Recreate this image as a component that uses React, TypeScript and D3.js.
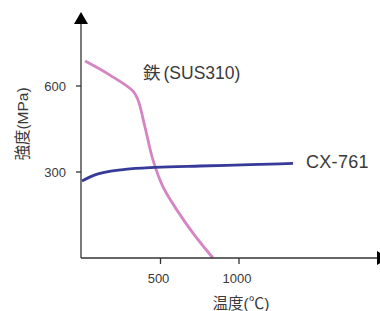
import * as d3 from "d3";

// temperature (°C) / strength (MPa)
const sus310Temp = [20, 178, 325, 357, 401, 452, 516, 605, 707, 834];
const sus310Strength = [687, 638, 582, 551, 457, 342, 248, 167, 87, 0];

const cx761Temp = [0, 83, 166, 274, 465, 752, 1070, 1344];
const cx761Strength = [269, 290, 301, 309, 316, 321, 325.5, 330];

const xTicks = [500, 1000];
const yTicks = [300, 600];

const W = 380;
const H = 311;
const font = "'Liberation Sans', Arial, 'Noto Sans CJK JP', sans-serif";
const axisColor = "#333";
const textColor = "#3a3a3a";

const App = () => {
  const x = d3.scaleLinear().domain([0, 1000]).range([82, 239]);
  const y = d3.scaleLinear().domain([0, 600]).range([258, 86]);

  const x0 = 81;
  const y0 = 258;
  const xEnd = 377;
  const yTop = 24;

  const line = d3
    .line<[number, number]>()
    .x((d) => x(d[0]))
    .y((d) => y(d[1]))
    .curve(d3.curveCatmullRom.alpha(0.5));

  const smooth = d3
    .line<[number, number]>()
    .x((d) => x(d[0]))
    .y((d) => y(d[1]))
    .curve(d3.curveMonotoneX);

  const sus = sus310Temp.map((t, i) => [t, sus310Strength[i]] as [number, number]);
  const cx = cx761Temp.map((t, i) => [t, cx761Strength[i]] as [number, number]);

  return (
    <svg
      width={W}
      height={H}
      style={{ position: "absolute", left: 0, top: 0, background: "#fff" }}
      fontFamily={font}
    >
      {/* curves */}
      <path d={line(sus) || ""} fill="none" stroke="#d584c4" strokeWidth={2.8} />
      <path d={smooth(cx) || ""} fill="none" stroke="#363a98" strokeWidth={2.8} />

      {/* axes */}
      <line x1={x0} x2={x0} y1={y0} y2={yTop} stroke={axisColor} strokeWidth={1.3} />
      <path d={`M${x0 - 7},${yTop} L${x0 + 7},${yTop} L${x0},${yTop - 12} Z`} fill="#000" />
      <line x1={x0} x2={xEnd} y1={y0} y2={y0} stroke={axisColor} strokeWidth={1.3} />
      <path d={`M${xEnd},${y0 - 7} L${xEnd},${y0 + 7} L${xEnd + 12},${y0} Z`} fill="#000" />

      {yTicks.map((t) => (
        <g key={t} transform={`translate(${x0},${y(t)})`}>
          <line x1={-5} x2={0} stroke={axisColor} strokeWidth={1.3} />
          <text x={-15} dy="0.35em" textAnchor="end" fontSize={13} fill={textColor}>
            {t}
          </text>
        </g>
      ))}
      {xTicks.map((t) => (
        <g key={t} transform={`translate(${x(t)},${y0})`}>
          <line y1={0} y2={6} stroke={axisColor} strokeWidth={1.3} />
          <text x={-2} y={25} textAnchor="middle" fontSize={13} fill={textColor}>
            {t}
          </text>
        </g>
      ))}

      {/* axis titles */}
      <text
        transform="translate(28,124) rotate(-90)"
        textAnchor="middle"
        fontSize={15.5}
        fill={textColor}
      >
        強度(MPa)
      </text>
      <text x={241} y={309} textAnchor="middle" fontSize={15.5} fill={textColor}>
        温度(℃)
      </text>

      {/* series labels */}
      <text x={143} y={79} fontSize={17.5} fill={textColor}>
        <tspan>鉄</tspan>
        <tspan dx={3}>(SUS310)</tspan>
      </text>
      <text x={306} y={168} fontSize={18} letterSpacing={0.3} fill={textColor}>
        CX-761
      </text>
    </svg>
  );
};

export default App;
